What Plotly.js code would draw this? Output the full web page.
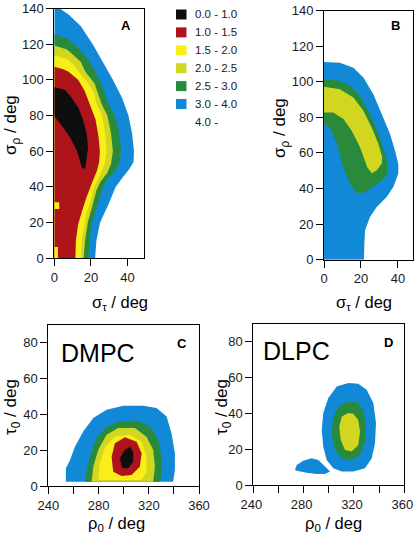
<!DOCTYPE html>
<html>
<head>
<meta charset="utf-8">
<script src="https://cdn.plot.ly/plotly-3.0.1.min.js"></script>
<style>html,body{margin:0;padding:0;background:#fff;}#chart{width:414px;height:539px;}</style>
</head>
<body>
<div id="chart"></div>
<script>
// ---------- legend / levels ----------
const LEVEL_LABELS = ['0.0 - 1.0', '1.0 - 1.5', '1.5 - 2.0', '2.0 - 2.5', '2.5 - 3.0', '3.0 - 4.0', '4.0 -'];
const LEVEL_COLORS = ['#0e0e0e', '#b0141b', '#f9ee17', '#d3d621', '#2a8a3b', '#1289d6', null];

// ---------- panel A (sigma_tau vs sigma_rho) : region boundaries [x, y] ----------
const A_LE_4_0 = [[0,140],[3,140],[8,136.5],[14.5,130],[21,120],[26.5,110],[29.5,104.5],[32,100],[37,90],[40.5,80],[42.5,70],[43.5,60],[43.3,54],[41,50],[37.5,45.5],[33.5,40],[29.5,30],[25,20],[23,10],[22.3,0],[0,0]];
const A_LE_3_0 = [[0,125.7],[7,123],[12,119],[17.5,113],[22.4,104.5],[26,97],[29.7,86],[33,80],[35.5,70],[36.5,60],[35.5,54],[33.5,49],[29.5,45],[26.5,40],[23.5,30],[20.5,20],[19.2,10],[18.7,0],[0,0]];
const A_LE_2_5 = [[0,119.3],[7,117],[11.5,113],[14.5,110],[17,104.5],[22,98],[26,86],[29,80],[31,70],[32,60],[31,53],[29,48],[25.3,43],[23,38],[21.5,32],[19.5,25],[18.3,20],[16.8,10],[16,0],[0,0]];
const A_LE_2_0 = [[0,113.8],[7,111.5],[11,108],[13.3,104.5],[18,99],[21.5,93],[23.3,86],[26,80],[27.8,70],[28.6,60],[27.5,53],[26,49],[23.2,43],[21,38],[19.8,32],[17.5,25],[16.5,19],[15,10],[14.6,0],[0,0]];
const A_LE_1_5 = [[0,107.3],[5,106],[7.8,104.5],[13,100],[16.5,94],[19.7,86],[22.5,78],[24.2,68],[24.9,60],[24.5,54],[23.3,49],[20.9,43],[17.5,34],[15,26],[13,19],[11.8,10],[11.5,0],[0,0]];
const A_LE_1_0 = [[0,96],[6,94.3],[9.7,89.7],[13.3,84.1],[16,76.7],[17.8,69.4],[18.4,61.9],[17.8,56.4],[16.9,50],[15.1,50.8],[12.4,60.1],[8.7,67.5],[5.1,73],[1.5,77.7],[0,79.5]];
const A_SPOT_1 = [[0,27.7],[2.7,27.7],[2.7,31.4],[0,31.4]];
const A_SPOT_2 = [[0,0],[2,0],[2,6.3],[0,6.3]];

// ---------- panel B ----------
const B_LE_4_0 = [[0,111],[8.6,110.7],[15.9,107.9],[21.3,102.3],[26.7,93],[32.1,80],[35.7,70.7],[38.4,61.3],[40.2,53.9],[40.2,48.3],[37.5,40.8],[33.9,35.2],[28.5,29.6],[24.9,24],[22.2,16.6],[21.8,8],[21.6,0],[0,0]];
const B_LE_3_0 = [[0,101.7],[8.6,100.4],[14.1,97.7],[19.5,92.1],[24.9,81.8],[29.4,70.7],[33,59.5],[34.8,52],[33.9,47.3],[30.3,43.6],[24.9,39.9],[21.3,37.5],[17.7,37.6],[14.1,42.7],[10.5,52],[6.9,65.1],[3.2,74.3],[0,76.3]];
const B_LE_2_5 = [[0,97.1],[8.6,95.8],[15.9,91.1],[21.3,83.7],[25.8,74.3],[29.4,65.1],[31.5,57.6],[31.2,53.9],[28.5,50.1],[25.8,48.6],[23.4,52],[19.5,63.2],[15,72.5],[10.5,79],[5,82.7],[0,82.7]];

// ---------- panel C (DMPC, rho0 vs tau0) ----------
const C_LE_4_0 = [[254,2.4],[254,9.9],[257.3,14.6],[261.2,22],[267.8,30.4],[275.8,38],[286.4,42.6],[299.6,44.9],[315.5,44.9],[326.2,43.6],[334.2,38.9],[338.1,29.5],[340.8,18.3],[340.8,9],[339.4,2.4]];
const C_LE_3_0 = [[269.2,2.4],[270.5,8],[273.2,16.4],[278.5,26.7],[286.4,33.3],[297,36.1],[310.3,36.6],[320.9,33.3],[327.5,25.8],[330.2,16.4],[330.2,7.1],[328.8,2.4]];
const C_LE_2_5 = [[274.5,2.4],[275.8,10.8],[279.8,20.2],[286.4,28.6],[295.7,32.4],[308.9,32.4],[318.2,27.6],[323.5,20.2],[324.9,10.8],[323.5,2.4]];
const C_LE_2_0 = [[279.8,3.4],[281.1,12.7],[285.1,22],[293,27.6],[305,28.6],[314.3,24.8],[318.2,16.4],[318.2,8],[314.3,3.4]];
const C_LE_1_5 = [[298.4,5.6],[291.7,8],[290.4,16.4],[293,23.9],[301,27.3],[310.3,24.8],[314.3,18.3],[312.9,10.8],[306.3,6.2]];
const C_LE_1_0 = [[298.4,10.8],[297,15.5],[301,20.2],[305,22],[307.6,19.2],[307.6,13.6],[303.6,9.9],[300.2,9.9]];

// ---------- panel D (DLPC) ----------
const D_LE_4_0 = [[315.5,57],[306.3,55.1],[299.6,48.6],[295.6,40.2],[294.4,30.8],[295.6,21.5],[298.3,14],[303.6,9.4],[310.3,7.5],[319.5,7.5],[328.8,9.4],[334.1,15],[336.7,23.4],[337.5,34.6],[335.4,45.8],[330.1,53.3],[323.4,56.6]];
const D_LE_4_0_SMALL = [[273.1,8.4],[274.5,11.2],[279.7,13.6],[286.4,15],[291.7,14],[297,10.3],[301,7.5],[297,6.2],[290.4,6.2],[282.4,6.9],[274.5,8]];
const D_LE_3_0 = [[315.5,46.7],[307.6,43.9],[303.6,37.4],[302.3,29],[304.9,19.6],[310.3,15],[318.2,14],[324.8,16.8],[328.8,24.3],[329.6,33.6],[327.4,42],[322.2,46.1]];
const D_LE_2_5 = [[315.5,40.2],[310.3,38.3],[308.3,32.7],[309.5,25.2],[312.9,19.6],[318.2,18.7],[323.4,22.4],[324.8,29.9],[323.4,36.4],[319.5,39.8]];

// ---------- tick labels ----------
const SIGMA_TICKS = [0, 20, 40];
const SIGMA_RHO_TICKS = [0, 20, 40, 60, 80, 100, 120, 140];
const RHO0_TICKS = [240, 260, 280, 300, 320, 340, 360];
const RHO0_LABELS = ['240', '', '280', '', '320', '', '360'];
const TAU0_TICKS = [0, 20, 40, 60, 80];

// ---------- build ----------
const W = 414, H = 539;
const FONT = 'Liberation Sans, Arial, Helvetica, sans-serif';
const fx = p => p / W;
const fy = p => 1 - p / H;

function band(pts, level, xa, ya) {
  const c = LEVEL_COLORS[level];
  return {
    type: 'scatter', mode: 'lines',
    x: pts.map(p => p[0]), y: pts.map(p => p[1]),
    fill: 'toself', fillcolor: c,
    line: {width: 0, color: c},
    xaxis: xa, yaxis: ya, hoverinfo: 'skip', showlegend: false
  };
}

const traces = [
  band(A_LE_4_0, 5, 'x', 'y'), band(A_LE_3_0, 4, 'x', 'y'), band(A_LE_2_5, 3, 'x', 'y'),
  band(A_LE_2_0, 2, 'x', 'y'), band(A_LE_1_5, 1, 'x', 'y'), band(A_LE_1_0, 0, 'x', 'y'),
  band(A_SPOT_1, 2, 'x', 'y'), band(A_SPOT_2, 2, 'x', 'y'),
  band(B_LE_4_0, 5, 'x2', 'y2'), band(B_LE_3_0, 4, 'x2', 'y2'), band(B_LE_2_5, 3, 'x2', 'y2'),
  band(C_LE_4_0, 5, 'x3', 'y3'), band(C_LE_3_0, 4, 'x3', 'y3'), band(C_LE_2_5, 3, 'x3', 'y3'),
  band(C_LE_2_0, 2, 'x3', 'y3'), band(C_LE_1_5, 1, 'x3', 'y3'), band(C_LE_1_0, 0, 'x3', 'y3'),
  band(D_LE_4_0, 5, 'x4', 'y4'), band(D_LE_4_0_SMALL, 5, 'x4', 'y4'),
  band(D_LE_3_0, 4, 'x4', 'y4'), band(D_LE_2_5, 3, 'x4', 'y4')
];

function axis(dom, range, tickvals, ticktext, anchor, extra) {
  return Object.assign({
    domain: dom, range: range, anchor: anchor,
    tickmode: 'array', tickvals: tickvals, ticktext: ticktext || tickvals.map(String),
    ticks: 'outside', ticklen: 7, tickwidth: 1, tickcolor: '#000',
    showline: true, linecolor: '#000', linewidth: 1, mirror: true,
    showgrid: false, zeroline: false, fixedrange: true,
    ticklabeloverflow: 'allow',
    tickfont: {family: FONT, size: 13, color: '#1a1a1a'}
  }, extra || {});
}

const layout = {
  width: W, height: H,
  margin: {l: 0, r: 0, t: 0, b: 0},
  paper_bgcolor: '#fff', plot_bgcolor: '#fff',
  showlegend: false,
  font: {family: FONT, color: '#000'},
  xaxis:  axis([fx(54.3), fx(144)],   [0, 49],   SIGMA_TICKS, null, 'y'),
  yaxis:  axis([fy(258.3), fy(8.5)],  [0, 140],  SIGMA_RHO_TICKS, null, 'x'),
  xaxis2: axis([fx(324), fx(412.7)],  [0, 48],   SIGMA_TICKS, null, 'y2'),
  yaxis2: axis([fy(259.7), fy(10.5)], [0, 140],  SIGMA_RHO_TICKS, null, 'x2'),
  xaxis3: axis([fx(48.3), fx(199)],   [240, 360], RHO0_TICKS, RHO0_LABELS, 'y3'),
  yaxis3: axis([fy(486), fy(325)],    [0, 90],   TAU0_TICKS, null, 'x3'),
  xaxis4: axis([fx(253.3), fx(404.3)],[240, 360], RHO0_TICKS, RHO0_LABELS, 'y4', {ticklabelshift: -2}),
  yaxis4: axis([fy(485), fy(324)],    [0, 90],   TAU0_TICKS, null, 'x4'),
  shapes: [],
  annotations: []
};

function note(text, px, py, size, opts) {
  return Object.assign({
    text: text, x: fx(px), y: fy(py), xref: 'paper', yref: 'paper',
    xanchor: 'center', yanchor: 'middle', showarrow: false,
    font: {family: FONT, size: size, color: '#000'}
  }, opts || {});
}

// axis titles
layout.annotations.push(
  note('σ<sub>τ</sub> / deg', 120, 303, 16.5),
  note('σ<sub>τ</sub> / deg', 364, 303, 16.5),
  note('σ<sub>ρ</sub> / deg', 12, 125, 17, {textangle: -90}),
  note('σ<sub>ρ</sub> / deg', 281, 128, 17, {textangle: -90}),
  note('ρ<sub>0</sub> / deg', 117, 524, 16.5),
  note('ρ<sub>0</sub> / deg', 333, 524, 16.5),
  note('τ<sub>0</sub> / deg', 12, 407, 17, {textangle: -90}),
  note('τ<sub>0</sub> / deg', 223, 407, 17, {textangle: -90})
);
// panel letters and names
layout.annotations.push(
  note('<b>A</b>', 126, 25, 13),
  note('<b>B</b>', 395, 25, 13),
  note('<b>C</b>', 182, 343, 13),
  note('<b>D</b>', 388, 342, 13),
  note('DMPC', 98, 353, 25),
  note('DLPC', 296, 351, 25)
);
// legend
LEVEL_LABELS.forEach((lab, i) => {
  const cy = 14.5 + 17.9 * i;
  if (LEVEL_COLORS[i]) {
    layout.shapes.push({
      type: 'rect', xref: 'paper', yref: 'paper',
      x0: fx(176), x1: fx(186.5), y0: fy(cy + 5), y1: fy(cy - 5),
      fillcolor: LEVEL_COLORS[i], line: {width: 0}
    });
  }
  layout.annotations.push(note(lab, 193, cy, 11.5, {xanchor: 'left', font: {family: FONT, size: 11.5, color: '#1a1a1a'}}));
});

Plotly.newPlot('chart', traces, layout, {staticPlot: true, displayModeBar: false});
</script>
</body>
</html>
